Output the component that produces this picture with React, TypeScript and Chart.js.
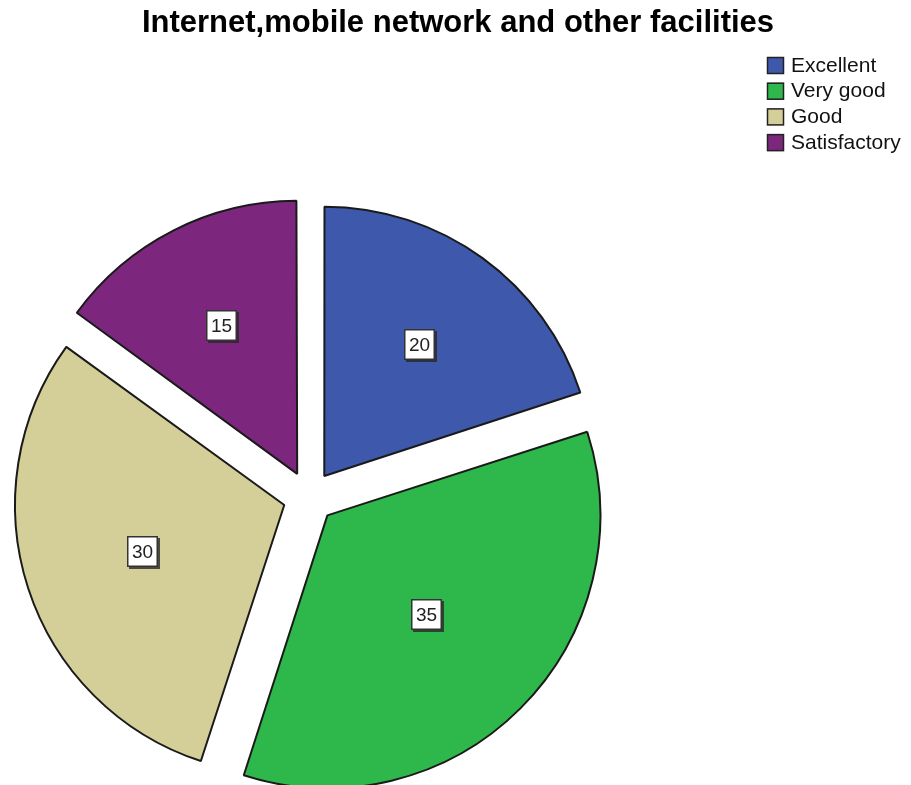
import React, { useEffect, useRef } from "react";
import { Chart, registerables } from "chart.js";

Chart.register(...registerables);

const TITLE = "Internet,mobile network and other facilities";
const categories = ["Excellent", "Very good", "Good", "Satisfactory"];
const values = [20, 35, 30, 15];
const colors = ["#3E58AC", "#2EB84B", "#D4CE98", "#7C277D"];

const FONT = '"Liberation Sans", Arial, sans-serif';

const overlayPlugin = {
  id: "overlay",
  afterDraw(chart: any) {
    const ctx = chart.ctx as CanvasRenderingContext2D;
    ctx.save();
    // Title
    ctx.fillStyle = "#000";
    ctx.font = `bold 31px ${FONT}`;
    ctx.textAlign = "center";
    ctx.textBaseline = "middle";
    ctx.fillText(TITLE, 458, 23);

    // Legend
    ctx.font = `21px ${FONT}`;
    ctx.textAlign = "left";
    categories.forEach((c, i) => {
      const cy = 65 + i * 25.7;
      ctx.fillStyle = colors[i];
      ctx.fillRect(767, cy - 8, 17, 17);
      ctx.strokeStyle = "#222";
      ctx.lineWidth = 1.5;
      ctx.strokeRect(767.5, cy - 7.5, 16, 16);
      ctx.fillStyle = "#111";
      ctx.fillText(c, 791, cy + 1);
    });

    // Data labels
    const meta = chart.getDatasetMeta(0);
    meta.data.forEach((arc: any, i: number) => {
      const a0 = arc.startAngle;
      const a1 = arc.endAngle;
      const mid = (a0 + a1) / 2;
      const alpha = a1 - a0;
      const off = (arc.options.offset || 0) / 4;
      const r = arc.outerRadius;
      const d = off + (4 * r * Math.sin(alpha / 2)) / (3 * alpha) * 0.97;
      const x = arc.x + Math.cos(mid) * d;
      const y = arc.y + Math.sin(mid) * d;
      const text = String(values[i]);
      ctx.font = `19px ${FONT}`;
      const tw = ctx.measureText(text).width;
      const w = Math.round(tw + 10);
      const h = 31;
      const bx = Math.round(x - w / 2);
      const by = Math.round(y - h / 2);
      ctx.fillStyle = "rgba(40,40,40,0.8)";
      ctx.fillRect(bx + 2, by + 2, w, h);
      ctx.fillStyle = "#fff";
      ctx.fillRect(bx, by, w, h);
      ctx.strokeStyle = "#333";
      ctx.lineWidth = 1.5;
      ctx.strokeRect(bx + 0.75, by + 0.75, w - 1.5, h - 1.5);
      ctx.fillStyle = "#222";
      ctx.textAlign = "center";
      ctx.textBaseline = "middle";
      ctx.fillText(text, bx + w / 2, by + h / 2 + 1);
    });
    ctx.restore();
  },
};

export default function App() {
  const ref = useRef<HTMLCanvasElement>(null);
  useEffect(() => {
    if (!ref.current) return;
    const chart = new Chart(ref.current, {
      type: "pie",
      data: {
        labels: categories,
        datasets: [
          {
            data: values,
            backgroundColor: colors,
            borderColor: "#1a1a1a",
            borderWidth: 2,
            offset: 104,
            hoverOffset: 0,
          },
        ],
      },
      options: {
        responsive: false,
        animation: false,
        radius: 268,
        layout: { padding: { left: 0, right: 293, top: 209, bottom: 0 } },
        plugins: {
          legend: { display: false },
          title: { display: false },
          tooltip: { enabled: false },
        },
        events: [],
      } as any,
      plugins: [overlayPlugin],
    });
    return () => chart.destroy();
  }, []);
  return (
    <div style={{ position: "absolute", left: 0, top: 0, width: 911, height: 785, background: "#fff" }}>
      <canvas ref={ref} width={911} height={785} style={{ display: "block" }} />
    </div>
  );
}
